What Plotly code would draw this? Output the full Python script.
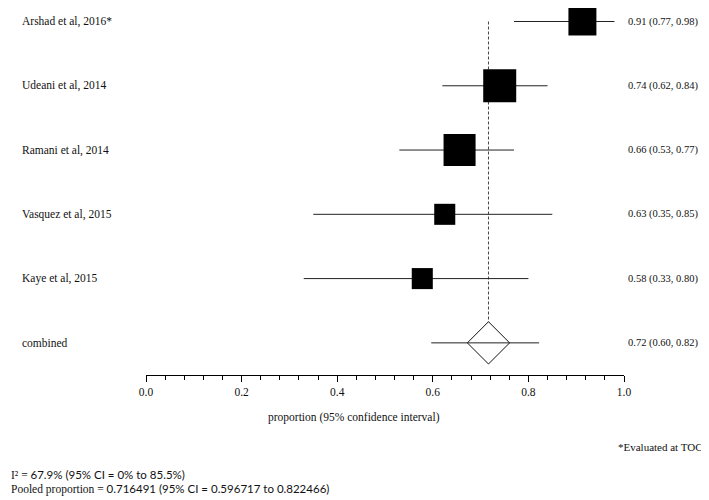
import plotly.graph_objects as go
import math

studies = ["Arshad et al, 2016*", "Udeani et al, 2014", "Ramani et al, 2014",
           "Vasquez et al, 2015", "Kaye et al, 2015"]
prop = [0.913, 0.74, 0.656, 0.625, 0.578]
lower = [0.77, 0.62, 0.53, 0.35, 0.33]
upper = [0.98, 0.84, 0.77, 0.85, 0.80]
prop_lbl = [0.91, 0.74, 0.66, 0.63, 0.58]
weights = [20.7, 28.8, 27.1, 11.7, 11.7]

pooled_label = "combined"
pooled = 0.716491
pooled_lo = 0.596717
pooled_hi = 0.822466

tick_vals = [0.0, 0.2, 0.4, 0.6, 0.8, 1.0]
tick_text = ["0.0", "0.2", "0.4", "0.6", "0.8", "1.0"]

x_title = "proportion (95% confidence interval)"
footnote = "*Evaluated at TOC"

SERIF = "Liberation Serif, Times New Roman, serif"

rows = list(range(len(studies)))
pool_row = len(studies)

fig = go.Figure()

# dashed pooled line
fig.add_trace(go.Scatter(x=[pooled, pooled], y=[0, pool_row], mode="lines",
                         line=dict(color="#444", width=1, dash="3px,2px"),
                         hoverinfo="skip", showlegend=False, cliponaxis=False))

# CI lines for studies
for i in rows:
    fig.add_trace(go.Scatter(x=[lower[i], upper[i]], y=[i, i], mode="lines",
                             line=dict(color="#222", width=1), hoverinfo="skip",
                             showlegend=False, cliponaxis=False))

# squares
wmax = max(weights)
sizes = [33 * math.sqrt(w / wmax) for w in weights]
fig.add_trace(go.Scatter(x=prop, y=rows, mode="markers",
                         marker=dict(symbol="square", size=sizes, color="#000000",
                                     opacity=1, line=dict(width=0)),
                         opacity=1, showlegend=False, cliponaxis=False))

# pooled diamond
fig.add_trace(go.Scatter(x=[pooled], y=[pool_row], mode="markers",
                         marker=dict(symbol="diamond", size=32.5, color="white",
                                     opacity=1, line=dict(color="#111", width=1)),
                         showlegend=False, cliponaxis=False))
fig.add_trace(go.Scatter(x=[pooled_lo, pooled_hi], y=[pool_row, pool_row], mode="lines",
                         line=dict(color="#222", width=1), hoverinfo="skip",
                         showlegend=False, cliponaxis=False))

ann = []
labels = studies + [pooled_label]
right = [f"{p:.2f} ({l:.2f}, {h:.2f})" for p, l, h in zip(prop_lbl, lower, upper)]
right.append(f"{pooled:.2f} ({pooled_lo:.2f}, {pooled_hi:.2f})")
for i, (lab, r) in enumerate(zip(labels, right)):
    ann.append(dict(text=lab, xref="paper", x=-0.2636, xanchor="left",
                    yref="y", y=i, yanchor="middle", showarrow=False,
                    font=dict(family=SERIF, size=11.5, color="#111")))
    ann.append(dict(text=r, xref="paper", x=1.005, xanchor="left",
                    yref="y", y=i, yanchor="middle", showarrow=False,
                    font=dict(family=SERIF, size=10.5, color="#111")))

ann.append(dict(text=x_title, xref="paper", x=0.435, xanchor="center",
                yref="paper", y=-0.117, yanchor="middle", showarrow=False,
                font=dict(family=SERIF, size=11.5, color="#111")))
ann.append(dict(text=footnote, xref="paper", x=1.17, xanchor="right",
                yref="paper", y=-0.195, yanchor="middle", showarrow=False,
                font=dict(family=SERIF, size=11, color="#111")))

i2_html = ("I² = <span style='font-family:Lato'>67.9% (95% CI = 0% to 85.5%)</span>")
pool_html = ("Pooled proportion = <span style='font-family:Lato'>"
             f"{pooled:.6f} (95% CI = {pooled_lo:.6f} to {pooled_hi:.6f})</span>")
ann.append(dict(text=i2_html, xref="paper", x=-0.287, xanchor="left",
                yref="paper", y=-0.27, yanchor="middle", showarrow=False,
                font=dict(family=SERIF, size=11.5, color="#111")))
ann.append(dict(text=pool_html, xref="paper", x=-0.287, xanchor="left",
                yref="paper", y=-0.31, yanchor="middle", showarrow=False,
                font=dict(family=SERIF, size=11.5, color="#111")))

fig.update_layout(
    width=709, height=500,
    margin=dict(l=138, r=93, t=0, b=133),
    paper_bgcolor="white", plot_bgcolor="white",
    annotations=ann,
    font=dict(family=SERIF, size=11.5, color="#111"),
    xaxis=dict(range=[0, 1], showline=True, linecolor="black", linewidth=1,
               ticks="outside", ticklen=6, tickcolor="black", tickwidth=1,
               tickvals=tick_vals, ticktext=tick_text, showgrid=False,
               zeroline=False, tickfont=dict(family=SERIF, size=11.5, color="#111"),
               minor=dict(tickmode="linear", tick0=0, dtick=0.04, ticks="outside",
                          ticklen=4, tickcolor="black", showgrid=False)),
    yaxis=dict(range=[5.5, -0.21], visible=False, showgrid=False, zeroline=False),
    showlegend=False,
)

fig.write_html("out.html")
